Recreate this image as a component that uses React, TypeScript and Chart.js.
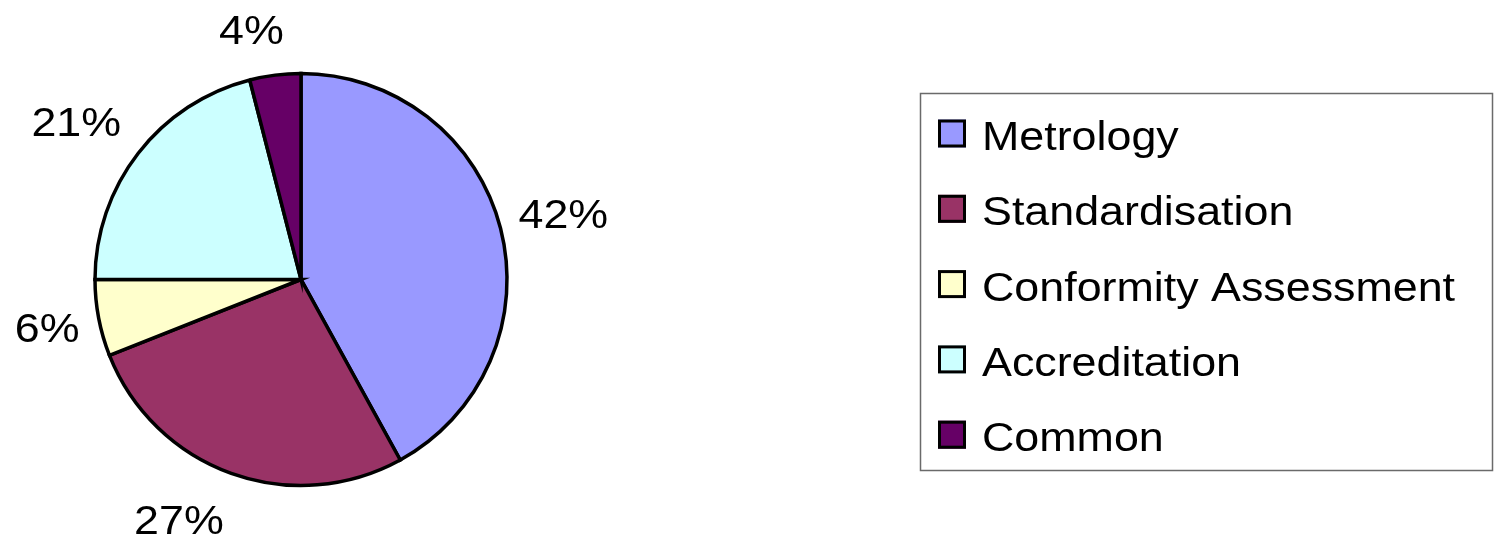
import React, { useEffect, useRef } from "react";
import { Chart, registerables } from "chart.js";

Chart.register(...registerables);

const categories = ["Metrology", "Standardisation", "Conformity Assessment", "Accreditation", "Common"];
const shares = [42, 27, 6, 21, 4];
const sliceColors = ["#9999FF", "#993366", "#FFFFCC", "#CCFFFF", "#660066"];
const percentLabels = ["42%", "27%", "6%", "21%", "4%"];
// fine-tuning offsets for the outside percentage labels (px)
const labelNudges: [number, number][] = [[-1, -6], [-30, 12], [1, 3], [-10, -10], [-17, -10]];

const FONT = '"Liberation Sans", Arial, sans-serif';
const STRETCH = 1.12;

function stretchedText(ctx: CanvasRenderingContext2D, txt: string, x: number, y: number, sx: number) {
  ctx.save();
  ctx.translate(x, y);
  ctx.scale(sx, 1);
  ctx.fillText(txt, 0, 0);
  ctx.restore();
}

const overlayPlugin = {
  id: "overlay",
  afterDraw(chart: any) {
    const ctx = chart.ctx as CanvasRenderingContext2D;
    const meta = chart.getDatasetMeta(0);
    ctx.save();
    // percentage labels
    ctx.font = `40px ${FONT}`;
    ctx.fillStyle = "#000";
    ctx.textAlign = "left";
    ctx.textBaseline = "alphabetic";
    meta.data.forEach((arc: any, i: number) => {
      const p = arc.getProps(["x", "y", "startAngle", "endAngle", "outerRadius"], true);
      const mid = (p.startAngle + p.endAngle) / 2;
      const c = Math.cos(mid);
      const s = Math.sin(mid);
      const txt = percentLabels[i];
      const w = ctx.measureText(txt).width * STRETCH;
      const h = 30;
      const R = p.outerRadius + 21;
      const cx = p.x + c * R + (c * w) / 2 + labelNudges[i][0];
      const cy = p.y + s * R + (s * h) / 2 + labelNudges[i][1];
      stretchedText(ctx, txt, cx - w / 2, cy + 14.5, STRETCH);
    });

    // legend box
    const bx = 920.5, by = 93.5, bw = 572, bh = 377;
    ctx.lineWidth = 1.5;
    ctx.strokeStyle = "#6a6a6a";
    ctx.strokeRect(bx, by, bw, bh);
    ctx.font = `40px ${FONT}`;
    categories.forEach((name, i) => {
      const rowY = 133 + i * 75.3;
      const mx = 938, my = rowY - 13.5, ms = 28;
      ctx.fillStyle = sliceColors[i];
      ctx.fillRect(mx, my, ms, ms);
      ctx.lineWidth = 3;
      ctx.strokeStyle = "#000";
      ctx.strokeRect(mx + 1.5, my + 1.5, ms - 3, ms - 3);
      ctx.fillStyle = "#000";
      stretchedText(ctx, name, 982, rowY + 17, STRETCH);
    });
    ctx.restore();
  },
};

export default function App() {
  const ref = useRef<HTMLCanvasElement | null>(null);
  useEffect(() => {
    document.body.style.margin = "0";
    const canvas = ref.current!;
    const chart = new Chart(canvas, {
      type: "pie",
      data: {
        labels: categories,
        datasets: [
          {
            data: shares,
            backgroundColor: sliceColors,
            borderColor: "#000000",
            borderWidth: 3.5,
            borderJoinStyle: "miter",
          } as any,
        ],
      },
      options: {
        responsive: false,
        animation: false,
        radius: 206,
        layout: { padding: { left: 94, right: 997, top: 73, bottom: 57 } },
        plugins: { legend: { display: false }, tooltip: { enabled: false } },
      } as any,
      plugins: [overlayPlugin],
    });
    return () => chart.destroy();
  }, []);
  return (
    <div style={{ position: "absolute", left: 0, top: 0, width: 1505, height: 543, background: "#fff" }}>
      <canvas ref={ref} width={1505} height={543} style={{ display: "block" }} />
    </div>
  );
}
